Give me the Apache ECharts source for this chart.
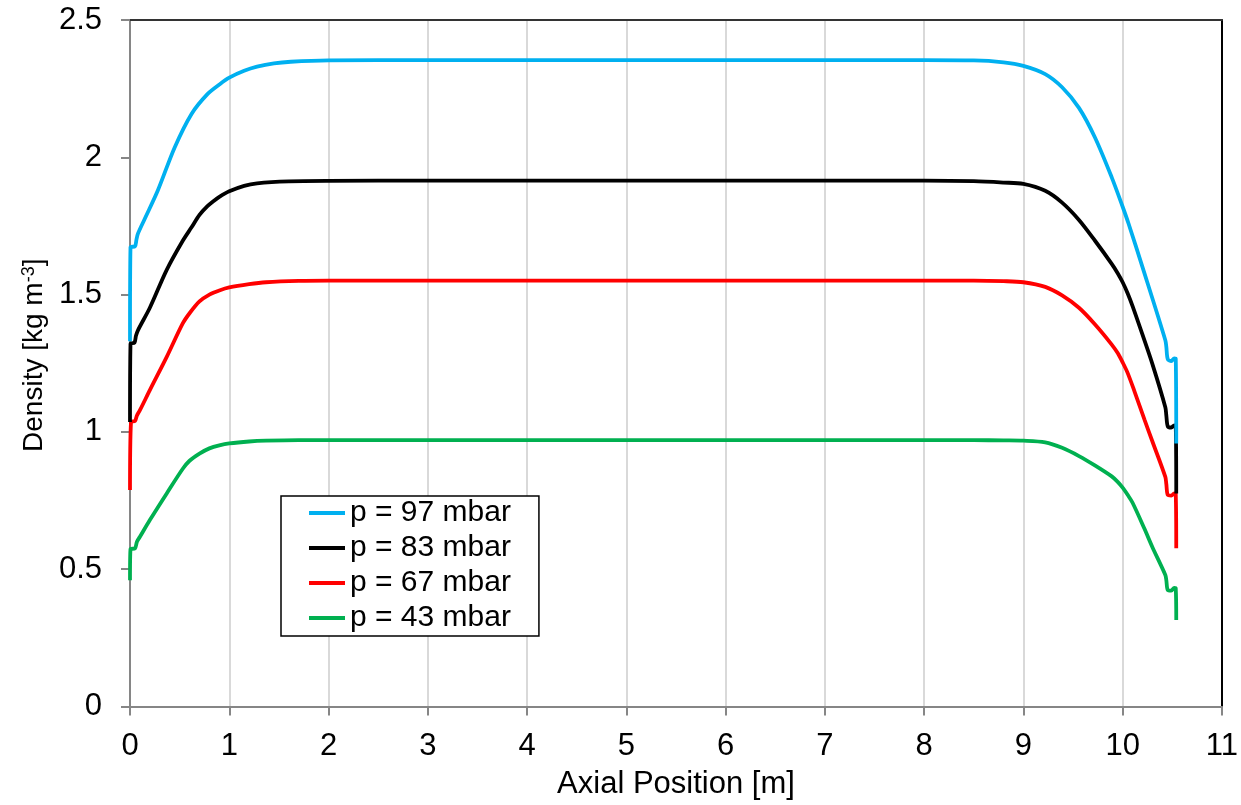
<!DOCTYPE html>
<html>
<head>
<meta charset="utf-8">
<script src="https://cdn.jsdelivr.net/npm/echarts@6/dist/echarts.min.js"></script>
<style>
html,body{margin:0;padding:0;background:#fff;}
#chart{width:1241px;height:805px;}
</style>
</head>
<body>
<div id="chart"></div>
<script>
// ---- data ----
const seriesNames = ['p = 97 mbar', 'p = 83 mbar', 'p = 67 mbar', 'p = 43 mbar'];
const seriesColors = ['#00B0F0', '#000000', '#FF0000', '#00B050'];

const x97 = [0, 0.005, 0.05, 0.065, 0.08, 0.15, 0.28, 0.45, 0.62, 0.78, 0.9, 1.0, 1.15, 1.28, 1.45, 1.62, 2, 3, 4, 5, 6, 7, 8, 8.5, 8.8, 9.0, 9.22, 9.39, 9.56, 9.72, 9.89, 10.0, 10.06, 10.2, 10.43, 10.44, 10.455, 10.49, 10.52, 10.535, 10.54];
const y97 = [1.33, 1.672, 1.676, 1.70, 1.722, 1.777, 1.879, 2.036, 2.158, 2.23, 2.265, 2.29, 2.315, 2.33, 2.342, 2.348, 2.353, 2.354, 2.354, 2.354, 2.354, 2.354, 2.354, 2.353, 2.346, 2.333, 2.303, 2.255, 2.18, 2.073, 1.927, 1.82, 1.758, 1.60, 1.334, 1.31, 1.264, 1.258, 1.268, 1.266, 0.958];

const x83 = [0, 0.005, 0.045, 0.06, 0.08, 0.2, 0.37, 0.53, 0.62, 0.7, 0.78, 0.85, 0.9, 1.0, 1.15, 1.28, 1.6, 2, 3, 4, 5, 6, 7, 8, 8.5, 8.8, 9.0, 9.22, 9.39, 9.56, 9.72, 9.89, 9.95, 10.0, 10.05, 10.1, 10.2, 10.3, 10.43, 10.44, 10.455, 10.49, 10.52, 10.535, 10.54];
const y83 = [1.036, 1.32, 1.325, 1.35, 1.37, 1.452, 1.59, 1.695, 1.745, 1.79, 1.822, 1.843, 1.856, 1.876, 1.896, 1.905, 1.912, 1.914, 1.915, 1.915, 1.915, 1.915, 1.915, 1.915, 1.913, 1.908, 1.903, 1.878, 1.835, 1.772, 1.697, 1.612, 1.578, 1.545, 1.505, 1.458, 1.354, 1.247, 1.09, 1.06, 1.02, 1.016, 1.024, 1.022, 0.776];

const x67 = [0, 0.01, 0.05, 0.07, 0.1, 0.2, 0.37, 0.53, 0.6, 0.7, 0.8, 0.9, 1.0, 1.2, 1.37, 1.7, 2, 3, 4, 5, 6, 7, 8, 8.5, 8.8, 9.0, 9.22, 9.39, 9.56, 9.72, 9.89, 9.95, 10.0, 10.05, 10.12, 10.22, 10.3, 10.43, 10.44, 10.455, 10.49, 10.52, 10.535, 10.54];
const y67 = [0.788, 1.036, 1.04, 1.06, 1.079, 1.152, 1.273, 1.394, 1.432, 1.475, 1.50, 1.515, 1.526, 1.538, 1.545, 1.55, 1.551, 1.551, 1.551, 1.551, 1.551, 1.551, 1.551, 1.551, 1.549, 1.545, 1.528, 1.497, 1.452, 1.392, 1.318, 1.287, 1.253, 1.215, 1.147, 1.045, 0.965, 0.836, 0.81, 0.77, 0.768, 0.776, 0.774, 0.576];

const x43 = [0, 0.005, 0.05, 0.07, 0.1, 0.2, 0.37, 0.53, 0.6, 0.7, 0.8, 0.9, 1.0, 1.2, 1.37, 1.7, 2, 3, 4, 5, 6, 7, 8, 8.5, 8.8, 9.0, 9.22, 9.39, 9.56, 9.72, 9.89, 9.95, 10.0, 10.05, 10.1, 10.22, 10.3, 10.43, 10.44, 10.455, 10.49, 10.52, 10.535, 10.54];
const y43 = [0.46, 0.573, 0.576, 0.60, 0.618, 0.679, 0.776, 0.865, 0.895, 0.921, 0.94, 0.951, 0.958, 0.965, 0.968, 0.970, 0.970, 0.970, 0.970, 0.970, 0.970, 0.970, 0.970, 0.970, 0.969, 0.968, 0.962, 0.942, 0.912, 0.878, 0.838, 0.818, 0.797, 0.771, 0.742, 0.647, 0.58, 0.479, 0.46, 0.424, 0.422, 0.432, 0.43, 0.315];

const xTicks = { min: 0, max: 11, interval: 1 };
const yTicks = { min: 0, max: 2.5, interval: 0.5 };

// ---- build ----
const FONT = "'Liberation Sans', Arial, sans-serif";
const xs = [x97, x83, x67, x43];
const ys = [y97, y83, y67, y43];
const series = seriesNames.map((name, i) => ({
  name: name,
  type: 'line',
  data: xs[i].map((x, k) => [x, ys[i][k]]),
  showSymbol: false,
  symbol: 'none',
  smooth: 0.3,
  lineStyle: { color: seriesColors[i], width: 3.8 },
  itemStyle: { color: seriesColors[i] },
  z: 10 - i
}));

const chart = echarts.init(document.getElementById('chart'), null, { renderer: 'canvas' });
chart.setOption({
  animation: false,
  backgroundColor: '#ffffff',
  grid: { left: 130, right: 14, top: 20, bottom: 98.5, containLabel: false },
  legend: {
    data: seriesNames,
    orient: 'vertical',
    left: 281,
    top: 496,
    backgroundColor: '#ffffff',
    borderColor: '#000000',
    borderWidth: 1.5,
    borderRadius: 0,
    padding: [2, 28, 3, 28],
    itemWidth: 36,
    itemHeight: 4,
    itemGap: 5,
    icon: 'rect',
    textStyle: { fontFamily: FONT, fontSize: 30, lineHeight: 30, color: '#000000' }
  },
  xAxis: [{
    type: 'value',
    min: xTicks.min, max: xTicks.max, interval: xTicks.interval,
    name: 'Axial Position [m]',
    nameLocation: 'middle',
    nameGap: 62,
    nameTextStyle: { fontFamily: FONT, fontSize: 31, color: '#000000' },
    axisLine: { show: true, onZero: false, lineStyle: { color: '#868686', width: 2 } },
    axisTick: { show: true, inside: false, length: 9, lineStyle: { color: '#868686', width: 2 } },
    axisLabel: { fontFamily: FONT, fontSize: 31, color: '#000000', margin: 24 },
    splitLine: { show: true, lineStyle: { color: '#d9d9d9', width: 2 } }
  }, {
    type: 'value', position: 'top',
    min: xTicks.min, max: xTicks.max,
    axisLine: { show: true, onZero: false, lineStyle: { color: '#333333', width: 2 } },
    axisTick: { show: false }, axisLabel: { show: false }, splitLine: { show: false }
  }],
  yAxis: [{
    type: 'value',
    min: yTicks.min, max: yTicks.max, interval: yTicks.interval,
    name: 'Density [kg m{sup|-3}]',
    nameLocation: 'middle',
    nameGap: 78,
    nameRotate: 90,
    nameTextStyle: {
      fontFamily: FONT, fontSize: 28, color: '#000000',
      padding: [0, 0, 0, 16],
      rich: { sup: { fontFamily: FONT, fontSize: 18, color: '#000000', verticalAlign: 'top', lineHeight: 18 } }
    },
    axisLine: { show: true, onZero: false, lineStyle: { color: '#868686', width: 2 } },
    axisTick: { show: true, inside: false, length: 9, lineStyle: { color: '#868686', width: 2 } },
    axisLabel: { fontFamily: FONT, fontSize: 31, color: '#000000', margin: 28 },
    splitLine: { show: false }
  }, {
    type: 'value', position: 'right',
    min: yTicks.min, max: yTicks.max,
    axisLine: { show: true, onZero: false, lineStyle: { color: '#000000', width: 2 } },
    axisTick: { show: false }, axisLabel: { show: false }, splitLine: { show: false }
  }],
  series: series
});
</script>
</body>
</html>
